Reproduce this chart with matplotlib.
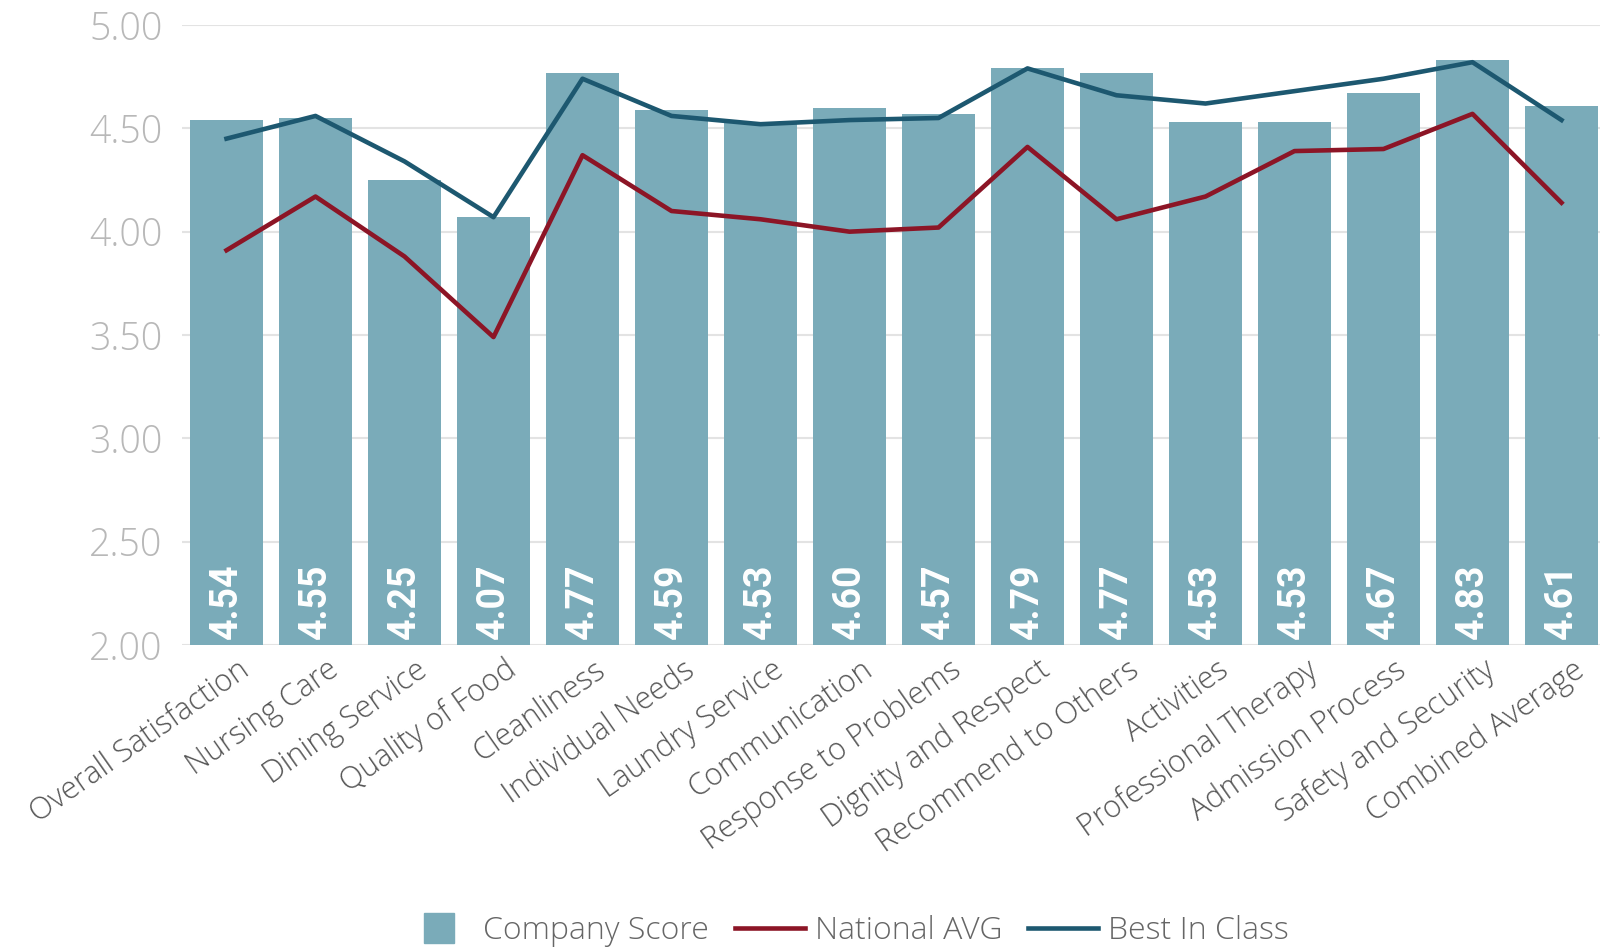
import numpy as np
import matplotlib.pyplot as plt
import matplotlib.transforms as mtransforms
from matplotlib.lines import Line2D

categories = [
    "Overall Satisfaction", "Nursing Care", "Dining Service", "Quality of Food",
    "Cleanliness", "Individual Needs", "Laundry Service", "Communication",
    "Response to Problems", "Dignity and Respect", "Recommend to Others",
    "Activities", "Professional Therapy", "Admission Process",
    "Safety and Security", "Combined Average",
]
company_score = [4.54, 4.55, 4.25, 4.07, 4.77, 4.59, 4.53, 4.60,
                 4.57, 4.79, 4.77, 4.53, 4.53, 4.67, 4.83, 4.61]
national_avg = [3.91, 4.17, 3.88, 3.49, 4.37, 4.10, 4.06, 4.00,
                4.02, 4.41, 4.06, 4.17, 4.39, 4.40, 4.57, 4.14]
best_in_class = [4.45, 4.56, 4.34, 4.07, 4.74, 4.56, 4.52, 4.54,
                 4.55, 4.79, 4.66, 4.62, 4.68, 4.74, 4.82, 4.54]
yticks = [2.0, 2.5, 3.0, 3.5, 4.0, 4.5, 5.0]

BAR = "#7aabb9"
RED = "#8c1526"
TEAL = "#1d5870"

plt.rcParams["font.family"] = ["Open Sans", "DejaVu Sans"]

fig = plt.figure(figsize=(16, 9.51), dpi=100)
ax = fig.add_axes([182 / 1600, 1 - 645 / 951, 1424 / 1600, 620 / 951])

x = np.arange(len(categories))
ax.bar(x, company_score, width=0.82, color=BAR, zorder=2)
ax.plot(x, national_avg, color=RED, lw=3.3, zorder=3)
ax.plot(x, best_in_class, color=TEAL, lw=3.3, zorder=3)

# value labels inside the bars
for xi, v in zip(x, company_score):
    ax.text(xi, 2.03, f"{v:.2f}", rotation=90, ha="center", va="bottom",
            color="white", fontsize=27, family="Roboto", fontweight="bold",
            zorder=4)

ax.set_ylim(2, 5)
ax.set_xlim(-0.5, 15.5)
ax.set_yticks(yticks)
ax.set_yticklabels([f"{t:.2f}" for t in yticks])
ax.yaxis.grid(True, color="#e3e3e3", lw=1.5)
ax.set_axisbelow(True)
for s in ax.spines.values():
    s.set_visible(False)
ax.tick_params(axis="y", length=0, pad=14, labelsize=27, labelcolor="#b8b8b8")
ax.tick_params(axis="x", length=0, pad=16)
for lab in ax.get_yticklabels():
    lab.set_fontweight("light")
ax.set_xticks(x)
ax.set_xticklabels(categories, rotation=35, ha="right", va="center",
                   rotation_mode="anchor", fontsize=22, color="#555555",
                   fontweight="light")
shift = mtransforms.ScaledTranslation(20 / 100, 0, fig.dpi_scale_trans)
for lab in ax.get_xticklabels():
    lab.set_transform(lab.get_transform() + shift)

handles = [
    Line2D([], [], marker="s", color=BAR, linestyle="None", markersize=22),
    Line2D([], [], color=RED, lw=3.3),
    Line2D([], [], color=TEAL, lw=3.3),
]
fig.legend(handles, ["Company Score", "National AVG", "Best In Class"],
           loc="center", bbox_to_anchor=(846 / 1600, 1 - 931 / 951), ncol=3,
           frameon=False, handlelength=2.2, handletextpad=0.3,
           columnspacing=0.8, labelcolor="#666666",
           prop={"weight": "light", "size": 23})

fig.savefig("out.png", dpi=100)
